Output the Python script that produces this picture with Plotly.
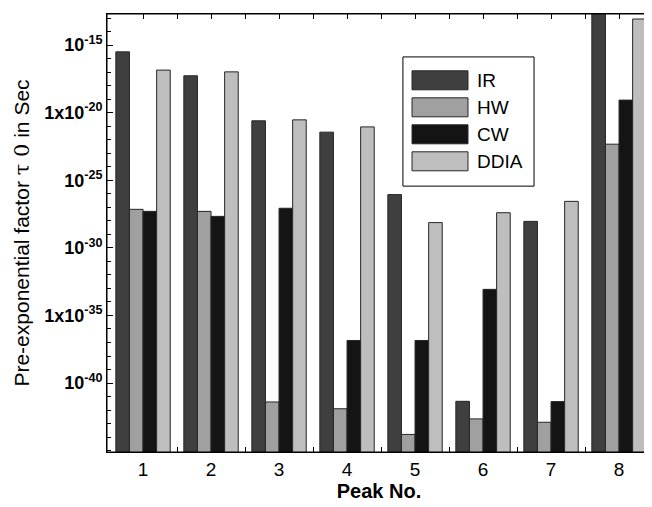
import plotly.graph_objects as go

peaks = [1, 2, 3, 4, 5, 6, 7, 8]
series_names = ["IR", "HW", "CW", "DDIA"]
colors = ["#3f3f3f", "#a0a0a0", "#141414", "#bebebe"]

# log10 of pre-exponential factor
log_IR = [-15.5, -17.27, -20.6, -21.44, -26.06, -41.35, -28.04, -12.0]
log_HW = [-27.15, -27.3, -41.4, -41.9, -43.8, -42.65, -42.9, -22.33]
log_CW = [-27.3, -27.67, -27.07, -36.85, -36.85, -33.07, -41.37, -19.07]
log_DDIA = [-16.85, -16.98, -20.53, -21.05, -28.13, -27.4, -26.56, -13.07]

series_logs = [log_IR, log_HW, log_CW, log_DDIA]

y_tick_exps = [-15, -20, -25, -30, -35, -40]
y_tick_text = ["10<sup>-15</sup>", "1x10<sup>-20</sup>", "10<sup>-25</sup>",
               "10<sup>-30</sup>", "1x10<sup>-35</sup>", "10<sup>-40</sup>"]

FONT = "Liberation Sans, Arial, Helvetica, sans-serif"

fig = go.Figure()
for name, col, logs in zip(series_names, colors, series_logs):
    fig.add_trace(go.Bar(
        x=peaks, y=[10 ** v for v in logs], name=name,
        marker=dict(color=col, line=dict(color="#262626", width=1)),
        showlegend=False,
    ))

fig.update_layout(
    width=644, height=499,
    margin=dict(l=99, r=1, t=6, b=55),
    paper_bgcolor="white", plot_bgcolor="white",
    barmode="group", bargap=0.2, bargroupgap=0,
    font=dict(family=FONT, color="black"),
)

fig.update_xaxes(
    range=[0.47, 8.47],
    tickvals=peaks, ticktext=[str(p) for p in peaks],
    ticks="inside", ticklen=5, tickcolor="black", tickwidth=1,
    minor=dict(tickvals=[p + 0.5 for p in peaks[:-1]], ticks="inside",
               ticklen=5, tickcolor="black", tickwidth=1),
    showline=True, linecolor="black", linewidth=1, mirror="ticks",
    showgrid=False, zeroline=False, layer="below traces",
    tickfont=dict(size=19, family=FONT, color="black"),
    title=dict(text="<b>Peak No.</b>", font=dict(size=20, family=FONT, color="black"), standoff=4),
)

fig.update_yaxes(
    type="log", range=[-45.1, -12.7],
    tickvals=[10 ** e for e in y_tick_exps],
    ticktext=["<b>" + t + "</b>" for t in y_tick_text],
    ticks="inside", ticklen=6, tickcolor="black", tickwidth=1,
    minor=dict(tickvals=[10 ** e for e in range(-45, -12)], ticks="inside",
               ticklen=4, tickcolor="black", tickwidth=1),
    showline=True, linecolor="black", linewidth=1, mirror="ticks",
    showgrid=False, zeroline=False, layer="below traces",
    tickfont=dict(size=18, family=FONT, color="black"),
    title=dict(text="Pre-exponential factor <span style='font-family:DejaVu Serif'>τ 0</span> in Sec",
               font=dict(size=21, family=FONT, color="black"), standoff=8),
)

# frame on top
fig.add_shape(type="rect", xref="paper", yref="paper", x0=0, x1=1, y0=0, y1=1,
              line=dict(color="black", width=1), layer="above")

# custom legend box
lx0, lx1, ly0, ly1 = 0.544, 0.785, 0.607, 0.902
fig.add_shape(type="rect", xref="paper", yref="paper", x0=lx0, x1=lx1, y0=ly0, y1=ly1,
              line=dict(color="black", width=1), fillcolor="white", layer="above")
row_h = 27 / 438
sw_h = 19 / 438
top_center = (452 - 80.3) / 438
for i, (name, col) in enumerate(zip(series_names, colors)):
    yc = top_center - i * row_h
    fig.add_shape(type="rect", xref="paper", yref="paper",
                  x0=0.5607, x1=0.6636, y0=yc - sw_h / 2, y1=yc + sw_h / 2,
                  line=dict(color="#262626", width=1), fillcolor=col, layer="above")
    fig.add_annotation(xref="paper", yref="paper", x=0.676, y=yc, text=name,
                       showarrow=False, xanchor="left", yanchor="middle",
                       font=dict(size=19, family=FONT, color="black"))

fig.write_html("out.html")
